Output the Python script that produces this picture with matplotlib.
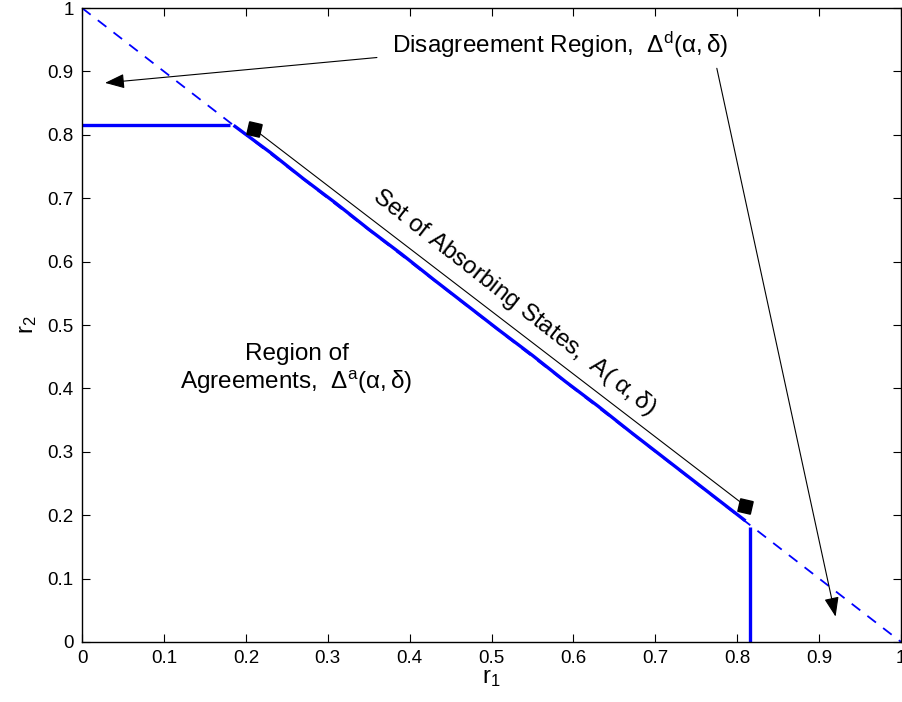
import matplotlib
matplotlib.use('Agg')
from matplotlib import pyplot as plt

plt.rcParams['font.family'] = ['Liberation Sans', 'DejaVu Sans']
plt.rcParams['mathtext.fontset'] = 'custom'
plt.rcParams['mathtext.rm'] = 'Liberation Sans'
plt.rcParams['mathtext.it'] = 'Liberation Sans'

# boundary r1 + r2 = 1
boundary_r1 = [0.0, 1.0]
boundary_r2 = [1.0, 0.0]

# horizontal part of the agreement border
flat_r1 = [0.0, 0.18]
flat_r2 = [0.815, 0.815]

# simulated border along the diagonal
diag_r1 = [0.185, 0.23, 0.27, 0.31, 0.35, 0.39, 0.43, 0.47, 0.51, 0.55,
           0.59, 0.63, 0.67, 0.71, 0.75, 0.79, 0.81]
diag_r2 = [0.815, 0.772, 0.731, 0.692, 0.651, 0.612, 0.571, 0.531, 0.491, 0.452,
           0.411, 0.372, 0.331, 0.291, 0.251, 0.211, 0.191]

# vertical part
vert_r1 = [0.815, 0.815]
vert_r2 = [0.181, 0.0]

# absorbing states end points
abs_r1 = [0.21, 0.81]
abs_r2 = [0.809, 0.2145]

fig = plt.figure(figsize=(9.02, 7.02), dpi=100)
ax = fig.add_axes([0.091, 0.0855, 0.908, 0.903])

ax.plot(boundary_r1, boundary_r2, color='blue', lw=1.3, linestyle=(0, (6, 5)))
ax.plot(flat_r1, flat_r2, color='blue', lw=2.4, solid_capstyle='butt')
ax.plot(diag_r1, diag_r2, color='blue', lw=2.4, solid_capstyle='butt')
ax.plot(vert_r1, vert_r2, color='blue', lw=2.4, solid_capstyle='butt')
ax.plot(abs_r1, abs_r2, color='black', lw=0.8)
ax.plot(abs_r1, abs_r2, linestyle='none', marker=(4, 0, 32), markersize=13,
        color='black')

ax.set_xlim(0, 1)
ax.set_ylim(0, 1)
ticks = [0, 0.1, 0.2, 0.3, 0.4, 0.5, 0.6, 0.7, 0.8, 0.9, 1]
tick_labels = ['0', '0.1', '0.2', '0.3', '0.4', '0.5', '0.6', '0.7', '0.8', '0.9', '1']
ax.set_xticks(ticks)
ax.set_xticklabels(tick_labels)
ax.set_yticks(ticks)
ax.set_yticklabels(tick_labels)
ax.tick_params(axis='both', direction='in', top=True, right=True, length=6,
               width=0.8, labelsize=13.5, pad=6)
for s in ax.spines.values():
    s.set_linewidth(1.0)

ax.set_xlabel('r$_1$', fontsize=17, labelpad=0)
ax.set_ylabel('r$_2$', fontsize=17, labelpad=6)

# labels
ax.text(0.378, 0.942, r'Disagreement Region,  $\Delta^{\mathrm{d}}(\alpha,\delta)$',
        fontsize=17.5, va='center', ha='left')
ax.text(0.262, 0.43, 'Region of\n' + r'Agreements,  $\Delta^{\mathrm{a}}(\alpha,\delta)$',
        fontsize=17.5, va='center', ha='center', linespacing=1.2)
ax.text(0.528, 0.536, r'Set of Absorbing States,  A( $\alpha,\delta$)',
        fontsize=17.5, va='center', ha='center', rotation=-38,
        rotation_mode='anchor')

arrow = dict(arrowstyle='-|>,head_length=1.2,head_width=0.45', color='black',
             lw=0.8, shrinkA=0, shrinkB=0)
ax.annotate('', xy=(0.028, 0.882), xytext=(0.36, 0.922), arrowprops=arrow)
ax.annotate('', xy=(0.92, 0.04), xytext=(0.775, 0.905), arrowprops=arrow)

plt.savefig('out.png', dpi=100)
